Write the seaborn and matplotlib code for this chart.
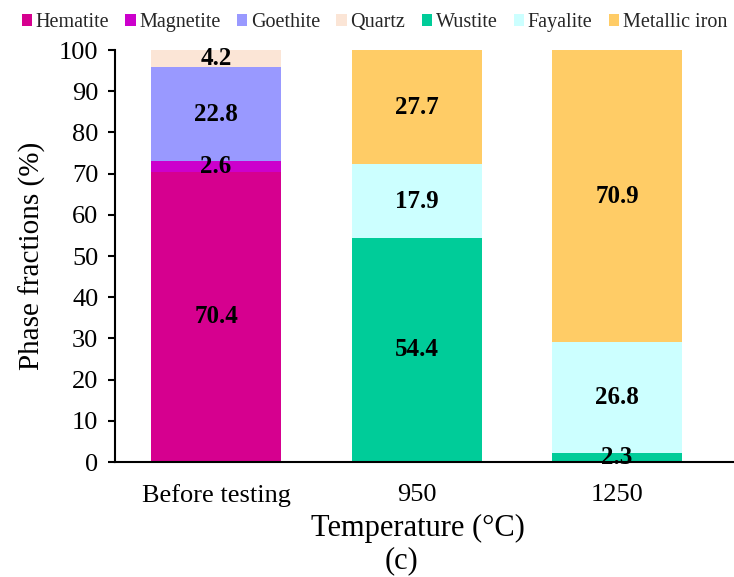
import matplotlib
matplotlib.use("Agg")
import matplotlib.pyplot as plt
import seaborn as sns
import pandas as pd
import numpy as np
from matplotlib.patches import Patch

categories = ["Before testing", "950", "1250"]
phases = ["Hematite", "Magnetite", "Goethite", "Quartz", "Wustite", "Fayalite", "Metallic iron"]
hematite = [70.4, 0, 0]
magnetite = [2.6, 0, 0]
goethite = [22.8, 0, 0]
quartz = [4.2, 0, 0]
wustite = [0, 54.4, 2.3]
fayalite = [0, 17.9, 26.8]
metallic_iron = [0, 27.7, 70.9]
colors = ["#D6008F", "#CC00CC", "#9999FF", "#FBE5D6", "#00CC99", "#CCFFFF", "#FFCC66"]

series = [hematite, magnetite, goethite, quartz, wustite, fayalite, metallic_iron]

sns.set_theme(style="white")
plt.rcParams["font.family"] = ["Liberation Serif", "DejaVu Serif"]

fig = plt.figure(figsize=(7.34, 5.77), dpi=100)
ax = fig.add_axes([0.1567, 0.1993, 0.8433, 0.714])

vals = np.array(series)
cum = np.cumsum(vals, axis=0)
bottoms = cum - vals

for i in range(len(phases) - 1, -1, -1):
    df = pd.DataFrame({"cat": categories, "val": cum[i]})
    sns.barplot(data=df, x="cat", y="val", order=categories, color=colors[i],
                width=0.648, linewidth=0, saturation=1, ax=ax, errorbar=None)

for i in range(len(phases)):
    for j in range(len(categories)):
        v = vals[i, j]
        if v > 0:
            ax.text(j, bottoms[i, j] + v / 2, f"{v:.1f}", ha="center", va="center",
                    fontsize=18, fontweight="bold", color="black")

ax.set_ylim(0, 100)
ax.set_xlim(-0.504, 2.583)
ax.set_yticks(range(0, 101, 10))
ax.tick_params(axis="y", which="both", left=True, length=5, width=1.5, labelsize=19, direction="out", pad=7, colors="black")
ax.tick_params(axis="x", bottom=False, labelsize=19, pad=10, colors="black")
for s in ["top", "right"]:
    ax.spines[s].set_visible(False)
for s in ["left", "bottom"]:
    ax.spines[s].set_color("black")
    ax.spines[s].set_linewidth(1.5)
ax.set_ylabel("Phase fractions (%)", fontsize=21, color="black", labelpad=9)
ax.set_xlabel("Temperature (°C)", fontsize=22, color="black")
ax.xaxis.set_label_coords(0.4887, -74 / 412)
ax.xaxis.label.set_va("baseline")
fig.text(402 / 734, 1 - 568 / 577, "(c)", fontsize=22, color="black", ha="center", va="baseline")

handles = [Patch(facecolor=c, edgecolor="none") for c in colors]
fig.legend(handles, phases, loc="upper center", bbox_to_anchor=(0.51, 1.0), ncol=7,
           frameon=False, fontsize=14.5, handlelength=0.5, handleheight=0.5,
           handletextpad=0.2, columnspacing=0.8, borderaxespad=0.25)

fig.savefig("out.png", dpi=100)
